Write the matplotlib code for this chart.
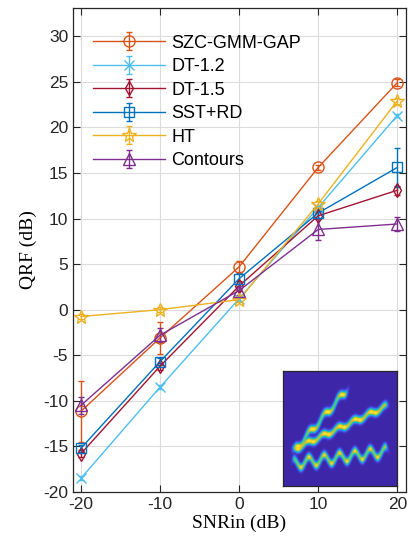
import numpy as np
import matplotlib
matplotlib.use("Agg")
import matplotlib.pyplot as plt
from matplotlib.colors import LinearSegmentedColormap

plt.rcParams["font.family"] = ["Liberation Sans", "DejaVu Sans"]
plt.rcParams["axes.unicode_minus"] = False

# QRF results vs input SNR
snr = [-20, -10, 0, 10, 20]

szc = [-11.15, -3.1, 4.7, 15.6, 24.9]
szc_err = [3.35, 1.8, 0.6, 0.3, 0.4]
dt12 = [-18.5, -8.5, 1.2, 11.2, 21.3]
dt12_err = [0.2, 0.2, 0.2, 0.2, 0.2]
dt15 = [-15.8, -6.2, 2.6, 10.3, 13.1]
dt15_err = [0.4, 0.4, 0.5, 0.4, 0.5]
sst = [-15.2, -5.7, 3.4, 10.6, 15.6]
sst_err = [0.4, 0.4, 0.6, 0.5, 2.1]
ht = [-0.75, 0.0, 1.1, 11.6, 22.9]
ht_err = [0.3, 0.3, 0.3, 0.3, 0.3]
contours = [-10.5, -2.8, 2.1, 8.8, 9.4]
contours_err = [0.9, 0.8, 0.5, 1.2, 0.8]

labels = ["SZC-GMM-GAP", "DT-1.2", "DT-1.5", "SST+RD", "HT", "Contours"]
colors = ["#D95319", "#4DBEEE", "#A2142F", "#0072BD", "#EDB120", "#7E2F8E"]
markers = ["o", "x", "d", "s", "*", "^"]
msizes = [8, 7, 7, 7, 10, 8]

# inset signal: start, end, f0, slope, amplitude, period, phase
comp_t0 = [0.094, 0.094, 0.094]
comp_t1 = [0.56, 0.91, 0.91]
comp_f0 = [0.33, 0.33, 0.235]
comp_slope = [1.14, 0.46, 0.13]
comp_amp = [0.026, 0.017, 0.042]
comp_period = [0.132, 0.137, 0.135]
comp_phase = [1.47, 2.44, 1.73]

fig = plt.figure(figsize=(4.08, 5.42), dpi=100)
ax = fig.add_axes([0.179, 0.0923, 0.816, 0.893])

series = [(szc, szc_err), (dt12, dt12_err), (dt15, dt15_err),
          (sst, sst_err), (ht, ht_err), (contours, contours_err)]
for (y, e), lab, c, m, ms in zip(series, labels, colors, markers, msizes):
    ax.errorbar(snr, y, yerr=e, color=c, marker=m, markersize=ms,
                markerfacecolor="none", markeredgewidth=1.0, linewidth=1.0,
                elinewidth=1.0, capsize=2.5, label=lab)

ax.set_xlim(-21, 21.1)
ax.set_ylim(-20, 33.1)
ax.set_xticks([-20, -10, 0, 10, 20])
ax.set_yticks(np.arange(-20, 31, 5))
ax.tick_params(direction="in", top=True, right=True, labelsize=12.5,
               length=5, width=0.8, colors="#262626")
ax.grid(True, color="#dcdcdc", linewidth=0.8)
ax.set_axisbelow(True)
for s in ax.spines.values():
    s.set_color("#262626")
    s.set_linewidth(0.9)

ax.set_xlabel("SNRin (dB)", family="Liberation Serif", fontsize=14, labelpad=2)
ax.set_ylabel("QRF (dB)", family="Liberation Serif", fontsize=14, labelpad=4)

ax.legend(loc="upper left", bbox_to_anchor=(0.06, 0.945), frameon=False,
          fontsize=13, handlelength=4.0, handletextpad=0.35,
          labelspacing=0.36, borderaxespad=0, borderpad=0)

# parula-like colormap
parula = LinearSegmentedColormap.from_list("parula", [
    (0.00, (0.2422, 0.1504, 0.6603)),
    (0.125, (0.2810, 0.3228, 0.9579)),
    (0.25, (0.1540, 0.5902, 0.9218)),
    (0.375, (0.0297, 0.7082, 0.8163)),
    (0.50, (0.1938, 0.7758, 0.6251)),
    (0.625, (0.5044, 0.7993, 0.3480)),
    (0.75, (0.8634, 0.7406, 0.1596)),
    (0.875, (0.9892, 0.8136, 0.1885)),
    (1.00, (0.9769, 0.9839, 0.0805)),
])

n = 260
t = np.linspace(0, 1, n)
T, F = np.meshgrid(t, t)
img = np.zeros_like(T)
for t0, t1, f0, k, a, p, ph in zip(comp_t0, comp_t1, comp_f0, comp_slope,
                                   comp_amp, comp_period, comp_phase):
    w = 2 * np.pi / p
    fc = f0 + k * (T - t0) + a * np.sin(w * (T - t0) + ph) - a * np.sin(ph)
    df = k + a * w * np.cos(w * (T - t0) + ph)
    sig = 0.02 * np.sqrt(1 + (0.4 * df) ** 2)
    gain = 1.0 / (1 + 0.3 * np.abs(df))
    win = 1 / (1 + np.exp(-(T - t0) / 0.008)) / (1 + np.exp((T - t1) / 0.008))
    img = np.maximum(img, gain * win * np.exp(-(F - fc) ** 2 / (2 * sig ** 2)))

ins = fig.add_axes([0.694, 0.103, 0.279, 0.212])
ins.imshow(img, origin="lower", cmap=parula, vmin=0, vmax=1,
           extent=[0, 1, 0, 1], aspect="auto", interpolation="bilinear")
ins.set_xticks([])
ins.set_yticks([])
for s in ins.spines.values():
    s.set_color("#262626")
    s.set_linewidth(0.9)

fig.savefig("out.png", dpi=100)
